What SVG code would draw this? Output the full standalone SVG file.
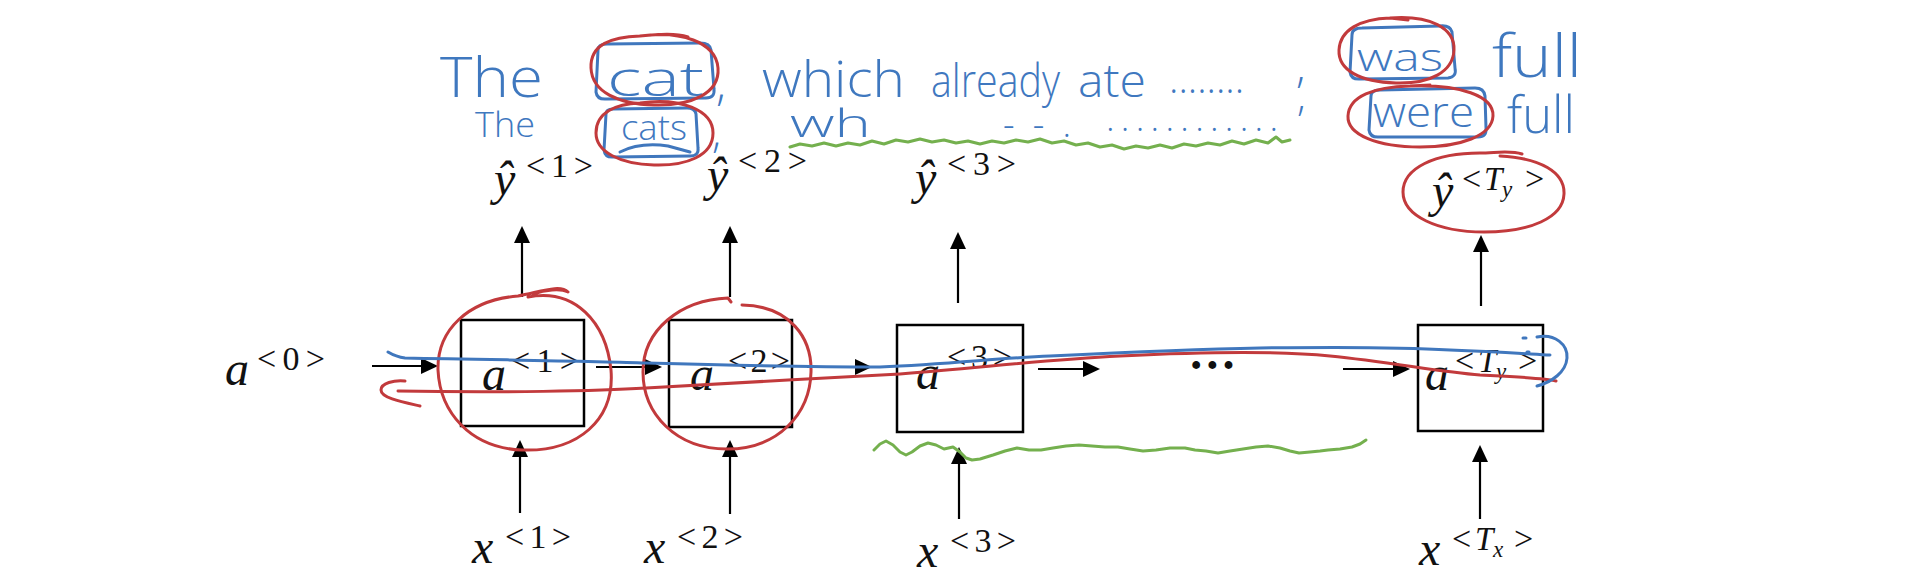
<svg xmlns="http://www.w3.org/2000/svg" width="1920" height="580" viewBox="0 0 1920 580">
<style>
.box{fill:none;stroke:#000;stroke-width:2.5}
.ar{fill:none;stroke:#000;stroke-width:2.2;marker-end:url(#ah)}
.m{font-family:"Liberation Serif",serif;font-style:italic;font-size:48px;fill:#111}
.sup{font-family:"Liberation Serif",serif;font-size:34px;fill:#111}
.supi{font-family:"Liberation Serif",serif;font-style:italic;font-size:33px;fill:#111}
.sub{font-family:"Liberation Serif",serif;font-style:italic;font-size:23px;fill:#111}
.hw{font-family:"Open Sans","Lato",sans-serif;font-weight:300;fill:#3f78bf}
.rd{fill:none;stroke:#c23a3c;stroke-width:3;stroke-linecap:round;stroke-linejoin:round}
.bl{fill:none;stroke:#4077bd;stroke-width:3;stroke-linecap:round;stroke-linejoin:round}
.gr{fill:none;stroke:#74b04e;stroke-width:3;stroke-linecap:round;stroke-linejoin:round}
</style>
<defs>
<marker id="ah" viewBox="0 0 17 16" refX="14" refY="8" markerWidth="17" markerHeight="16" markerUnits="userSpaceOnUse" orient="auto">
<path d="M0,0 L17,8 L0,16 Z" fill="#000"/>
</marker>
</defs>
<rect width="1920" height="580" fill="#fff"/>

<g id="a0">
<text class="m" x="225" y="385">a</text>
<text class="sup" x="257" y="370" textLength="68">&lt;0&gt;</text>
</g>

<g id="cell1">
<rect class="box" x="461" y="320" width="123" height="106"/>
<text class="m" x="482" y="390">a</text>
<text class="sup" x="511" y="372" textLength="68">&lt;1&gt;</text>
</g>
<g id="cell2">
<rect class="box" x="669" y="320" width="123" height="107"/>
<text class="m" x="690" y="390">a</text>
<text class="sup" x="728" y="372" textLength="62">&lt;2&gt;</text>
</g>
<g id="cell3">
<rect class="box" x="897" y="325" width="126" height="107"/>
<text class="m" x="916" y="389">a</text>
<text class="sup" x="947" y="368" textLength="65">&lt;3&gt;</text>
</g>
<g id="ellipsis">
<text class="m" x="1190" y="369" font-style="normal" font-weight="bold">…</text>
</g>
<g id="cellTy">
<rect class="box" x="1418" y="325" width="125" height="106"/>
<text class="m" x="1425" y="390">a</text>
<text y="372"><tspan class="sup" x="1455">&lt;</tspan><tspan class="supi" x="1478">T</tspan><tspan class="sub" x="1496" dy="7">y</tspan><tspan class="sup" x="1518" dy="-7">&gt;</tspan></text>
</g>

<g id="yhat1">
<text class="m" x="494" y="195">ŷ</text>
<text class="sup" x="526" y="177" textLength="67">&lt;1&gt;</text>
</g>
<g id="yhat2">
<text class="m" x="707" y="191">ŷ</text>
<text class="sup" x="738" y="172" textLength="69">&lt;2&gt;</text>
</g>
<g id="yhat3">
<text class="m" x="915" y="194">ŷ</text>
<text class="sup" x="947" y="175" textLength="69">&lt;3&gt;</text>
</g>
<g id="yhatTy">
<text class="m" x="1432" y="207">ŷ</text>
<text y="190"><tspan class="sup" x="1462">&lt;</tspan><tspan class="supi" x="1484">T</tspan><tspan class="sub" x="1502" dy="7">y</tspan><tspan class="sup" x="1525" dy="-7">&gt;</tspan></text>
</g>

<g id="x1">
<text class="m" x="472" y="563">x</text>
<text class="sup" x="505" y="548" textLength="66">&lt;1&gt;</text>
</g>
<g id="x2">
<text class="m" x="644" y="563">x</text>
<text class="sup" x="677" y="548" textLength="66">&lt;2&gt;</text>
</g>
<g id="x3">
<text class="m" x="917" y="567">x</text>
<text class="sup" x="950" y="552" textLength="66">&lt;3&gt;</text>
</g>
<g id="xTx">
<text class="m" x="1419" y="565">x</text>
<text y="550"><tspan class="sup" x="1452">&lt;</tspan><tspan class="supi" x="1475">T</tspan><tspan class="sub" x="1493" dy="7">x</tspan><tspan class="sup" x="1514" dy="-7">&gt;</tspan></text>
</g>

<g id="connectors">
<line class="ar" x1="372" y1="366" x2="435" y2="366"/>
<line class="ar" x1="596" y1="367" x2="659" y2="367"/>
<line class="ar" x1="807" y1="367" x2="869" y2="367"/>
<line class="ar" x1="1038" y1="369" x2="1097" y2="369"/>
<line class="ar" x1="1343" y1="369" x2="1407" y2="369"/>
<line class="ar" x1="522" y1="297" x2="522" y2="229"/>
<line class="ar" x1="730" y1="297" x2="730" y2="229"/>
<line class="ar" x1="958" y1="303" x2="958" y2="235"/>
<line class="ar" x1="1481" y1="306" x2="1481" y2="238"/>
<line class="ar" x1="520" y1="513" x2="520" y2="443"/>
<line class="ar" x1="730" y1="514" x2="730" y2="443"/>
<line class="ar" x1="959" y1="519" x2="959" y2="450"/>
<line class="ar" x1="1480" y1="519" x2="1480" y2="448"/>
</g>

<g id="annotations">
<!-- handwritten words -->
<text class="hw" x="440" y="97" font-size="55" textLength="103" lengthAdjust="spacingAndGlyphs">The</text>
<text class="hw" x="607" y="96" font-size="48" textLength="97" lengthAdjust="spacingAndGlyphs">cat</text>
<text class="hw" x="716" y="100" font-size="46">,</text>
<text class="hw" x="762" y="97" font-size="50" textLength="143" lengthAdjust="spacingAndGlyphs">which</text>
<text class="hw" x="931" y="97" font-size="46" textLength="129" lengthAdjust="spacingAndGlyphs">already</text>
<text class="hw" x="1078" y="97" font-size="46" textLength="68" lengthAdjust="spacingAndGlyphs">ate</text>
<text class="hw" x="1169" y="93" font-size="40" textLength="75" lengthAdjust="spacingAndGlyphs">........</text>
<text class="hw" x="1296" y="82" font-size="44">,</text>
<text class="hw" x="1357" y="71" font-size="38" textLength="86" lengthAdjust="spacingAndGlyphs">was</text>
<text class="hw" x="1492" y="77" font-size="58" textLength="90" lengthAdjust="spacingAndGlyphs">full</text>

<text class="hw" x="475" y="137" font-size="34" textLength="60" lengthAdjust="spacingAndGlyphs">The</text>
<text class="hw" x="621" y="140" font-size="34" textLength="66" lengthAdjust="spacingAndGlyphs">cats</text>
<text class="hw" x="712" y="148" font-size="42">,</text>
<text class="hw" x="790" y="137" font-size="38" textLength="81" lengthAdjust="spacingAndGlyphs">wh</text>
<text class="hw" x="1003" y="137" font-size="36" textLength="68">- - .</text>
<text class="hw" x="1106" y="131" font-size="36" textLength="172">............</text>
<text class="hw" x="1297" y="111" font-size="40">,</text>
<text class="hw" x="1373" y="127" font-size="42" textLength="101" lengthAdjust="spacingAndGlyphs">were</text>
<text class="hw" x="1507" y="133" font-size="52" textLength="68" lengthAdjust="spacingAndGlyphs">full</text>

<!-- blue boxes round words -->
<path class="bl" d="M598,50 L596,92 Q597,100 607,99 L706,98 Q715,98 714,89 L711,50 Q710,43 700,43 L607,44 Q598,44 598,50 Z"/>
<path class="bl" d="M606,114 L604,150 Q605,158 614,157 L690,156 Q699,156 698,148 L696,114 Q695,108 687,108 L613,109 Q606,109 606,114 Z M620,152 Q640,142 668,146 L690,152"/>
<path class="bl" d="M1352,35 L1350,72 Q1351,80 1361,79 L1448,78 Q1457,77 1455,68 L1452,32 Q1450,25 1440,26 L1362,28 Q1352,28 1352,35 Z"/>
<path class="bl" d="M1371,96 L1369,130 Q1370,138 1380,137 L1478,137 Q1487,137 1486,128 L1485,96 Q1484,88 1475,88 L1380,90 Q1371,90 1371,96 Z"/>

<!-- red ellipses round words -->
<path class="rd" d="M640,36 C680,30 716,42 718,68 C720,94 690,106 654,105 C618,104 592,92 591,68 C590,44 612,37 640,36 C660,34 676,33 688,37"/>
<path class="rd" d="M640,103 C680,97 713,110 713,133 C713,156 686,166 654,165 C620,164 596,152 596,133 C596,112 616,104 640,103 Z"/>
<path class="rd" d="M1390,18 C1430,15 1455,28 1454,50 C1453,72 1430,84 1396,83 C1360,82 1338,70 1339,50 C1340,30 1360,19 1390,18 L1408,20"/>
<path class="rd" d="M1410,86 C1460,84 1494,96 1493,116 C1492,136 1460,147 1420,147 C1378,147 1347,135 1348,116 C1349,96 1374,87 1410,86 L1430,85"/>
<path class="rd" d="M1500,156 C1540,158 1565,172 1564,194 C1563,218 1530,232 1484,232 C1438,232 1403,216 1403,192 C1403,168 1435,153 1480,153 C1495,153 1510,150 1522,154"/>

<!-- red circles round cells 1 and 2 -->
<path class="rd" d="M528,297 C575,288 606,322 611,370 C615,420 578,452 522,450 C470,448 440,412 438,370 C437,330 468,300 518,296 C540,292 560,284 568,292 C560,288 545,290 533,294"/>
<path class="rd" d="M742,305 C790,306 812,338 811,372 C810,414 778,449 727,449 C676,449 643,414 643,372 C643,330 680,300 728,298 L731,302"/>

<!-- red long stroke -->
<path class="rd" d="M420,406 C402,402 381,398 381,390 C381,383 394,380 405,381"/>
<path class="rd" d="M398,391 C500,393 600,391 646,388 C720,384 820,378 900,374 C980,368 1040,360 1120,356 C1200,352 1280,351 1330,356 C1390,362 1440,372 1480,375 C1520,377 1545,378 1556,381"/>

<!-- blue long stroke -->
<path class="bl" d="M388,352 C393,355 397,357 405,358 C500,360 600,361 646,363 C720,365 820,367 880,367 C950,364 1000,358 1050,356 C1130,352 1200,349 1260,348 C1330,347 1400,347 1450,350 C1500,352 1530,354 1550,355"/>
<path class="bl" d="M1537,337 C1555,333 1568,345 1567,358 C1566,372 1552,382 1537,386"/>
<path class="bl" d="M1523,338 l3,0 M1527,352 l2,0"/>

<!-- green wavy underlines -->
<polyline class="gr" points="790,147 800,144 812,146 824,143 836,146 848,143 860,145 872,141 884,144 896,140 908,142 920,139 932,142 944,140 956,143 968,141 980,144 992,141 1004,143 1016,140 1028,142 1040,139 1052,143 1064,141 1076,145 1088,143 1100,147 1112,145 1124,149 1136,146 1148,148 1160,145 1172,148 1184,144 1196,146 1208,143 1220,145 1232,141 1244,144 1256,140 1268,143 1276,137 1282,142 1290,140"/>
<polyline class="gr" points="874,450 880,444 886,441 893,445 900,452 906,455 912,452 920,446 928,443 936,445 944,449 953,447 960,452 966,458 972,460 980,459 993,455 1005,451 1017,448 1029,450 1041,450 1053,448 1066,446 1079,445 1092,446 1105,447 1118,447 1130,449 1143,451 1156,450 1170,448 1185,448 1195,450 1206,451 1218,453 1230,451 1243,449 1256,447 1268,446 1280,448 1290,451 1299,453 1310,452 1320,451 1328,450 1340,449 1352,447 1360,444 1366,440"/>
</g>
</svg>
